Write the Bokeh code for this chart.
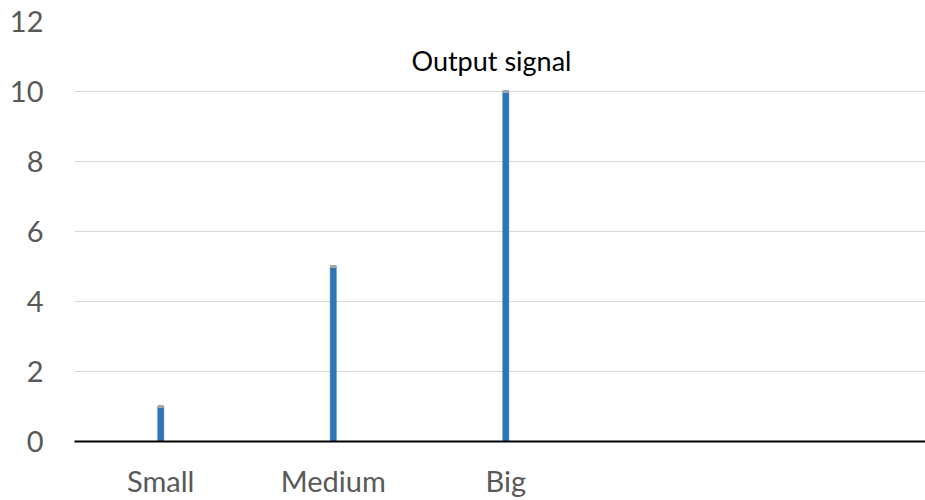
from bokeh.plotting import figure
from bokeh.models import FixedTicker, Range1d, ColumnDataSource
from bokeh.core.properties import value
from bokeh.embed import file_html
from bokeh.resources import INLINE

# Chart data
categories = ["Small", "Medium", "Big"]
signal = [1, 5, 10]
y_ticks = [0, 2, 4, 6, 8, 10, 12]
chart_title = "Output signal"

# categories sit at the centres of unit-wide slots
x_pos = [i + 0.5 for i in range(len(categories))]

FONT = "Lato"

p = figure(
    width=925, height=500,
    output_backend="svg", toolbar_location=None,
    x_range=Range1d(0, 4.933), y_range=Range1d(0, 12),
    min_border_left=74, min_border_right=0,
    min_border_top=21, min_border_bottom=0,
    outline_line_color=None,
)
p.background_fill_color = "white"
p.border_fill_color = "white"

# y axis: labels only, light horizontal gridlines
p.yaxis.ticker = FixedTicker(ticks=y_ticks)
p.yaxis.axis_line_color = None
p.yaxis.major_tick_line_color = None
p.yaxis.minor_tick_line_color = None
p.yaxis.major_label_text_font = FONT
p.yaxis.major_label_text_font_size = "29px"
p.yaxis.major_label_text_color = "#595959"
p.yaxis.major_label_standoff = 25
p.ygrid.ticker = FixedTicker(ticks=y_ticks)
p.ygrid.grid_line_color = "#D9D9D9"
p.ygrid.grid_line_width = 1

# x axis: category labels under a black baseline
p.xaxis.ticker = FixedTicker(ticks=x_pos)
p.xaxis.major_label_overrides = {x: c for x, c in zip(x_pos, categories)}
p.xaxis.axis_line_color = "black"
p.xaxis.axis_line_width = 2
p.xaxis.major_tick_line_color = None
p.xaxis.minor_tick_line_color = None
p.xaxis.major_label_text_font = FONT
p.xaxis.major_label_text_font_size = "29px"
p.xaxis.major_label_text_color = "#595959"
p.xaxis.major_label_standoff = 15
p.xgrid.grid_line_color = None

src = ColumnDataSource(dict(x=x_pos, top=signal))

# thin signal bars
p.vbar(x="x", top="top", bottom=0, width=0.037, source=src,
       fill_color="#2E75B6", line_color="#5B9BD5", line_width=0.5)

# small grey cap marking each bar's value
p.rect(x="x", y="top", width=6, height=3,
       width_units="screen", height_units="screen",
       source=src, fill_color="#A5A5A5", line_color=None)

# title inside the plot area
p.text(x=[2.417], y=[10.886], text=[chart_title],
       text_font=value(FONT), text_font_size="27px",
       text_color="black", text_align="center", text_baseline="alphabetic")

open("out.html", "w").write(file_html(p, INLINE))
